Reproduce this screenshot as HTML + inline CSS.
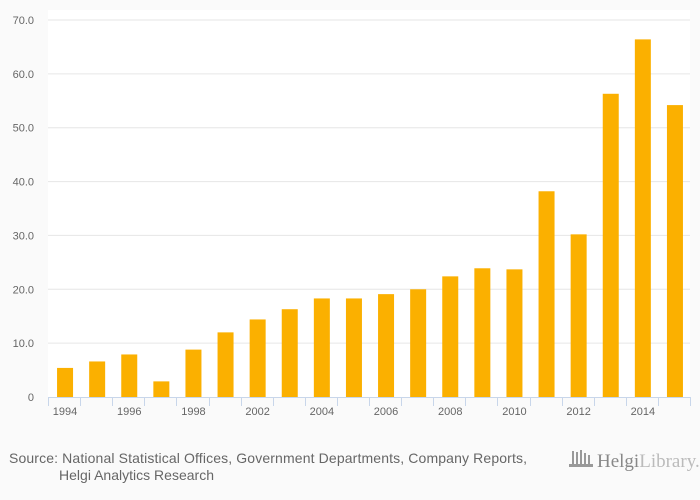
<!DOCTYPE html>
<html><head><meta charset="utf-8"><style>
body{margin:0;background:#fafafa;font-family:"Liberation Sans",sans-serif;}
svg{display:block}
</style></head><body>
<svg width="700" height="500" xmlns="http://www.w3.org/2000/svg">
<rect x="0" y="0" width="700" height="500" fill="#fafafa"/>
<rect x="48" y="10" width="642" height="387" fill="#ffffff"/>
<g id="grid"></g><g id="bars"></g><g id="axis"></g>
<text x="9" y="463" font-size="14" textLength="518" fill="#666">Source: National Statistical Offices, Government Departments, Company Reports,</text>
<text x="59" y="480" font-size="14" textLength="155" fill="#666">Helgi Analytics Research</text>
<g>
<g fill="#999"><rect x="572" y="451" width="2" height="14"/><rect x="576" y="452" width="2" height="13"/><rect x="580" y="450" width="2" height="15"/><rect x="584" y="453" width="2" height="12"/><rect x="588" y="455" width="2" height="10"/><rect x="569" y="464" width="24" height="3"/></g>
<text x="597" y="467" font-size="19" font-family="Liberation Serif,serif" fill="#888">Helgi<tspan fill="#bbb">Library.</tspan></text>
</g>
</svg>
<script>
const categories=["1994","1995","1996","1997","1998","2001","2002","2003","2004","2005","2006","2007","2008","2009","2010","2011","2012","2013","2014","2015"];
const values=[5.4,6.6,7.9,2.9,8.8,12.0,14.4,16.3,18.3,18.3,19.1,20.0,22.4,23.9,23.7,38.2,30.2,56.3,66.4,54.2];
const yTicks=[0,10,20,30,40,50,60,70];
const yTickLabels=["0","10.0","20.0","30.0","40.0","50.0","60.0","70.0"];
const xLabelShown=["1994","1996","1998","2002","2004","2006","2008","2010","2012","2014"];
const NS="http://www.w3.org/2000/svg";
const x0=48,step=32.1,bw=16,yBase=397,yTop=20,yMax=70;
const y=v=>yBase-(v/yMax)*(yBase-yTop);
const xc=i=>x0+step*i+step/2+1;
function mk(t,a,p){const e=document.createElementNS(NS,t);for(const k in a)e.setAttribute(k,a[k]);p.appendChild(e);return e;}
const grid=document.getElementById('grid'),bars=document.getElementById('bars'),axis=document.getElementById('axis');
yTicks.forEach((t,i)=>{
 if(t>0){const l=mk('line',{x1:x0,x2:690,y1:y(t),y2:y(t),stroke:'#e6e6e6','stroke-width':1},grid);
 
 }
 const tx=mk('text',{x:34,y:y(t)+4,'font-size':11,fill:'#666','text-anchor':'end'},axis);
 tx.textContent=yTickLabels[i];
 
 
});
values.forEach((v,i)=>{
 const r=mk('rect',{x:xc(i)-bw/2,y:y(v),width:bw,height:yBase-y(v),fill:'#fbb000'},bars);
 
 
});
const al=mk('line',{x1:x0,x2:x0+step*categories.length,y1:yBase+0.5,y2:yBase+0.5,stroke:'#c8d6ea','stroke-width':1},axis);


for(let i=0;i<=categories.length;i++){
 const tk=mk('line',{x1:Math.round(x0+step*i)+0.5,x2:Math.round(x0+step*i)+0.5,y1:yBase,y2:yBase+9,stroke:'#c8d6ea','stroke-width':1},axis);
 
 
}
categories.forEach((c,i)=>{
 if(!xLabelShown.includes(c))return;
 const tx=mk('text',{x:xc(i),y:415,'font-size':11,fill:'#666','text-anchor':'middle'},axis);
 tx.textContent=c;
 
 
});
</script>
</body></html>
